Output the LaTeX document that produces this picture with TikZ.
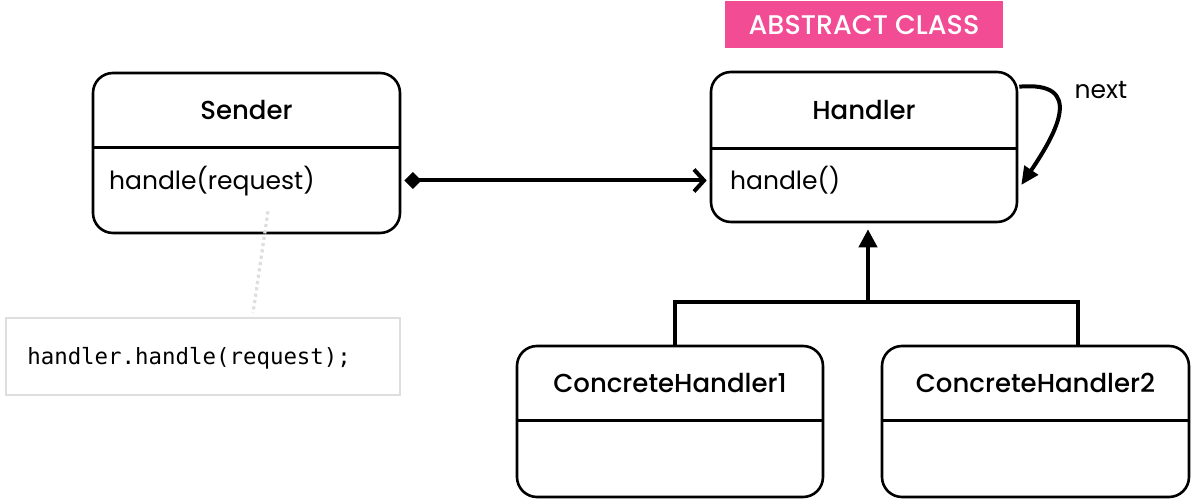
\documentclass[tikz,border=0pt]{standalone}
\usepackage{fontspec}
\setmainfont{Poppins}
\setmonofont{DejaVu Sans Mono}
\newfontfamily\namefont{Poppins}[UprightFont=* Medium]
\usetikzlibrary{arrows.meta,positioning}

\definecolor{tagpink}{RGB}{242,76,148}
\definecolor{notegray}{RGB}{222,222,222}

\begin{document}
\begin{tikzpicture}
[x=0.5pt, y=-0.5pt, font=\fontsize{12.5}{15}\selectfont,
% STYLES
% class boxes and their parts
classbox/.style={rectangle, draw, line width=1.3pt, rounded corners=10pt, inner sep=0pt},
namepart/.style={rectangle, inner sep=0pt, minimum height=37.5pt, font=\namefont\fontsize{13}{15}\selectfont},
divider/.style={line width=1.3pt},
opstext/.style={inner sep=0pt, anchor=west},
% the pink stereotype tag
tag/.style={rectangle, fill=tagpink, text=white, inner sep=0pt, minimum width=139pt, minimum height=23.5pt, font=\namefont\fontsize{13.5}{15}\selectfont},
% the code note
note/.style={rectangle, draw=notegray, line width=1.1pt, inner sep=0pt, minimum width=197pt, minimum height=38.5pt},
notetext/.style={inner sep=0pt, anchor=west, font=\ttfamily\fontsize{11.2}{13}\selectfont},
noteline/.style={draw=notegray, line width=1.6pt, dash pattern=on 1.6pt off 1.6pt},
% connectors
link/.style={line width=2pt}]

\useasboundingbox (0,0) rectangle (1191,501);

% Sender
\node [classbox, minimum width=153.5pt, minimum height=80pt] (sender) at (246.5,153) {};
\node [namepart, below=0 of sender.north] (sender-name) {Sender};
\draw [divider] (sender.west |- sender-name.south) -- (sender.east |- sender-name.south);
\node [opstext] (sender-ops) at ([xshift=8.5pt,yshift=-17pt]sender-name.south -| sender.west) {handle(request)};

% Handler
\node [classbox, minimum width=153pt, minimum height=75pt] (handler) at (864,147) {};
\node [namepart, minimum height=38.5pt, below=0 of handler.north] (handler-name) {Handler};
\draw [divider] (handler.west |- handler-name.south) -- (handler.east |- handler-name.south);
\node [opstext] (handler-ops) at ([xshift=10pt,yshift=-16pt]handler-name.south -| handler.west) {handle()};

\node [tag, above=11pt of handler] (abstract) {ABSTRACT CLASS};
\node [inner sep=0pt, anchor=west] (next) at ([xshift=28pt,yshift=-9.5pt]handler.north east) {next};

% Concrete handlers
\node [classbox, minimum width=153pt, minimum height=75.5pt] (concrete1) at (670,421.5) {};
\node [namepart, below=0 of concrete1.north] (concrete1-name) {ConcreteHandler1};
\draw [divider] (concrete1.west |- concrete1-name.south) -- (concrete1.east |- concrete1-name.south);

\node [classbox, minimum width=153.5pt, minimum height=75.5pt] (concrete2) at (1035.5,421.5) {};
\node [namepart, below=0 of concrete2.north] (concrete2-name) {ConcreteHandler2};
\draw [divider] (concrete2.west |- concrete2-name.south) -- (concrete2.east |- concrete2-name.south);

% Note
\node [note] (note) at (203,356.5) {};
\node [notetext] (note-code) at ([xshift=11pt,yshift=-1pt]note.west) {handler.handle(request);};

%%%%%%%%%%%%%%%%

\coordinate (fork) at ([xshift=2pt]handler.south |- 0,302);

\draw [link, {Diamond[length=8.5pt,width=8.5pt]}-{Straight Barb[length=5pt,width=11pt]}]
  ([xshift=1.5pt]sender.east |- handler-ops) -- ([xshift=-1.5pt]handler.west |- handler-ops);
\draw [link, -{Triangle[length=9pt,width=9pt]}] (fork) -- ([xshift=2pt,yshift=-3pt]handler.south);
\draw [link] ([xshift=2.5pt]concrete1.north) |- (fork) -| ([xshift=21pt]concrete2.north);
\draw [link, -{Triangle[length=9pt,width=8pt]}]
  ([xshift=0.5pt,yshift=-8pt]handler.north east) to[out=5,in=56,looseness=1.7] ([xshift=1.5pt,yshift=-19pt]handler.east);

\draw [noteline] ([xshift=10.75pt,yshift=11.5pt]sender.south) -- ([xshift=25pt,yshift=2pt]note.north);

\end{tikzpicture}
\end{document}
